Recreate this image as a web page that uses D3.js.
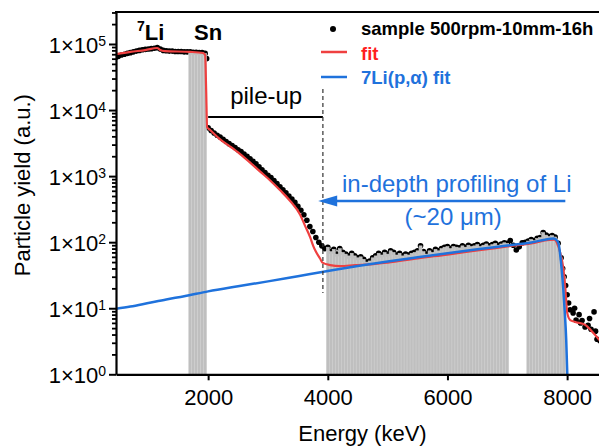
<!DOCTYPE html>
<html>
<head>
<meta charset="utf-8">
<script src="https://cdn.jsdelivr.net/npm/d3@7"></script>
<style>
  body { margin: 0; background: #fff; }
  svg { display: block; font-family: "Liberation Sans", Arial, sans-serif; }
</style>
</head>
<body>
<svg id="chart" width="599" height="447"></svg>
<script>
// Measured spectrum: [energy keV, counts]
const samplePlateau = [
  [450, 6.2e4], [500, 6.5e4], [550, 6.8e4], [600, 7.0e4], [650, 7.2e4], [700, 7.4e4],
  [750, 7.6e4], [800, 7.8e4], [850, 8.0e4], [900, 8.2e4], [950, 8.3e4], [1000, 8.4e4],
  [1050, 8.5e4], [1100, 8.6e4], [1150, 8.8e4], [1200, 8.4e4], [1250, 8.0e4], [1300, 7.9e4],
  [1350, 7.8e4], [1400, 7.8e4], [1450, 7.7e4], [1500, 7.7e4], [1550, 7.7e4], [1600, 7.6e4],
  [1650, 7.6e4], [1700, 7.6e4], [1750, 7.5e4], [1800, 7.5e4], [1850, 7.4e4], [1900, 7.4e4],
  [1950, 7.2e4], [1975, 6.0e4]
];
const samplePileUp = [
  [2000, 5.4e3], [2050, 4.9e3], [2100, 4.5e3], [2150, 4.15e3], [2200, 3.9e3], [2250, 3.6e3],
  [2300, 3.35e3], [2350, 3.1e3], [2400, 2.9e3], [2450, 2.7e3], [2500, 2.5e3], [2550, 2.35e3],
  [2600, 2.15e3], [2650, 2.0e3], [2700, 1.83e3], [2750, 1.68e3], [2800, 1.53e3], [2850, 1.38e3],
  [2900, 1.25e3], [2950, 1.13e3], [3000, 1.03e3], [3050, 950], [3100, 860], [3150, 770],
  [3200, 690], [3250, 620], [3300, 560], [3350, 500], [3400, 450], [3450, 400], [3500, 350],
  [3550, 305], [3600, 260], [3650, 215], [3700, 172], [3750, 145], [3800, 118], [3850, 100],
  [3900, 88]
];
const sampleLithium = [
  [3950, 80], [4000, 84], [4050, 72], [4100, 78], [4150, 66], [4200, 80], [4250, 70],
  [4300, 66], [4350, 62], [4400, 68], [4450, 62], [4500, 58], [4550, 60], [4600, 55],
  [4650, 50], [4700, 52], [4750, 58], [4800, 62], [4850, 68], [4900, 64], [4950, 70],
  [5000, 66], [5050, 74], [5100, 70], [5150, 64], [5200, 68], [5250, 62], [5300, 66],
  [5350, 64], [5400, 68], [5450, 70], [5500, 74], [5550, 88], [5600, 72], [5650, 66],
  [5700, 74], [5750, 70], [5800, 78], [5850, 74], [5900, 80], [5950, 84], [6000, 86],
  [6050, 80], [6100, 86], [6150, 84], [6200, 82], [6250, 88], [6300, 84], [6350, 90],
  [6400, 86], [6450, 88], [6500, 92], [6550, 86], [6600, 90], [6650, 94], [6700, 88],
  [6750, 92], [6800, 96], [6850, 90], [6900, 94], [6950, 98], [7000, 96], [7050, 106],
  [7100, 90], [7150, 76], [7200, 85], [7250, 98], [7300, 100], [7350, 104], [7400, 110],
  [7450, 106], [7500, 114], [7550, 118], [7600, 140], [7650, 128], [7700, 122], [7750, 126],
  [7800, 120], [7850, 96], [7900, 58], [7925, 40], [7950, 30], [7975, 22], [8000, 16]
];
const sampleTail = [
  [8025, 12], [8050, 9.5], [8100, 8.5], [8125, 10], [8150, 6.6], [8200, 8], [8225, 6],
  [8250, 6.5], [8300, 5.2], [8350, 5.5], [8375, 7], [8400, 4.8], [8450, 8.8], [8475, 4.5],
  [8500, 3.4], [8550, 3.2]
];

// Total spectrum fit
const fitTotal = [
  [460, 7.0e4], [700, 7.6e4], [950, 8.1e4], [1150, 8.7e4], [1190, 8.2e4], [1280, 7.8e4],
  [1700, 7.6e4], [1915, 7.3e4], [1950, 6.8e4], [1967, 2.0e4], [1983, 5.5e3], [2033, 5.0e3],
  [2200, 3.6e3], [2368, 2.8e3], [2535, 2.15e3], [2702, 1.6e3], [2870, 1.17e3], [3037, 860],
  [3204, 610], [3371, 420], [3538, 260], [3622, 175], [3706, 118], [3756, 88], [3800, 72],
  [3873, 56], [3910, 49], [4040, 45], [4207, 43.5], [4458, 45], [4709, 46], [5000, 49],
  [5500, 57], [6000, 65], [6500, 75], [7000, 86], [7400, 96], [7700, 108], [7790, 109],
  [7835, 95], [7885, 69], [7935, 41], [7968, 21], [8002, 8.5], [8052, 6.6], [8135, 6.2],
  [8303, 5.6], [8420, 4.4], [8540, 3.3]
];

// 7Li(p,alpha) contribution
const fitLithium = [
  [460, 9.8], [700, 10.6], [1000, 12.0], [1300, 13.6], [1600, 15.2], [2000, 18.0],
  [2500, 21.5], [3000, 25.5], [3500, 30.5], [4000, 36.5], [4500, 43.5], [5000, 51],
  [5500, 59], [6000, 68], [6500, 78], [7000, 89], [7400, 99], [7700, 112], [7780, 114],
  [7830, 106], [7860, 92], [7885, 64], [7910, 38], [7935, 20], [7960, 9], [7985, 3.3],
  [8003, 1]
];

// Energy windows shaded grey (integration regions)
const shadedWindows = [[1700, 1950], [4000, 7000], [7350, 7950]];

const xTicks = [2000, 4000, 6000, 8000];
const yExponents = [0, 1, 2, 3, 4, 5];

const svg = d3.select("#chart");
const plotLeft = 116, plotRight = 609, plotTop = 12, plotBottom = 374.3;
const x = d3.scaleLinear().domain([460, 8700]).range([plotLeft, plotRight]);
const y = d3.scaleLog().domain([1, 3.05e5]).range([plotBottom, plotTop]);

svg.append("defs").append("clipPath").attr("id", "plotClip")
  .append("rect").attr("x", plotLeft).attr("y", plotTop)
  .attr("width", plotRight - plotLeft).attr("height", plotBottom - plotTop);

const plot = svg.append("g").attr("clip-path", "url(#plotClip)");

const allSample = samplePlateau.concat(samplePileUp, sampleLithium, sampleTail);

// data points
plot.append("g").selectAll("circle").data(allSample).join("circle")
  .attr("cx", d => x(d[0])).attr("cy", d => y(d[1])).attr("r", 2.8)
  .attr("fill", "#000");

// grey channel bars in the integration windows
const halfStep = 25;
const barData = allSample.filter(d => shadedWindows.some(w => d[0] >= w[0] && d[0] <= w[1]));
plot.append("g").selectAll("rect").data(barData).join("rect")
  .attr("x", d => x(d[0] - halfStep))
  .attr("width", d => x(d[0] + halfStep) - x(d[0] - halfStep))
  .attr("y", d => y(d[1]))
  .attr("height", d => y(1) - y(d[1]))
  .attr("fill", "#bfbfbf")
  .attr("stroke", "#cfcfcf")
  .attr("stroke-width", 0.5);

const line = d3.line().x(d => x(d[0])).y(d => y(d[1])).curve(d3.curveMonotoneX);

plot.append("path").datum(fitTotal).attr("d", line)
  .attr("fill", "none").attr("stroke", "#ef4040").attr("stroke-width", 2.2);
plot.append("path").datum(fitLithium).attr("d", line)
  .attr("fill", "none").attr("stroke", "#1f72dc").attr("stroke-width", 2.5);

// axes
const xAxis = svg.append("g").attr("transform", `translate(0,${plotBottom})`)
  .call(d3.axisBottom(x).tickValues(xTicks).tickFormat(d3.format("d"))
    .tickSize(6).tickSizeOuter(0).tickPadding(9));
xAxis.select(".domain").attr("stroke-width", 2.2);
xAxis.selectAll(".tick line").attr("stroke-width", 2);
xAxis.selectAll(".tick text").attr("font-size", 22).attr("font-family", "Liberation Sans, Arial, sans-serif").attr("fill", "#000");

const minorVals = [];
yExponents.forEach(e => { for (let m = 2; m <= 9; m++) { const v = m * Math.pow(10, e); if (v <= 3.05e5) minorVals.push(v); } });
const yMinor = svg.append("g").attr("transform", `translate(${plotLeft},0)`)
  .call(d3.axisLeft(y).tickValues(minorVals).tickFormat("").tickSize(4).tickSizeOuter(0));
yMinor.select(".domain").remove();
yMinor.selectAll(".tick line").attr("stroke-width", 1.8);

const yAxis = svg.append("g").attr("transform", `translate(${plotLeft},0)`)
  .call(d3.axisLeft(y).tickValues(yExponents.map(e => Math.pow(10, e))).tickFormat("")
    .tickSize(7).tickSizeOuter(0));
yAxis.select(".domain").attr("stroke-width", 2.2);
yAxis.selectAll(".tick line").attr("stroke-width", 2);

const yLab = svg.append("g").selectAll("text").data(yExponents).join("text")
  .attr("x", 106).attr("y", e => y(Math.pow(10, e)) + 9)
  .attr("text-anchor", "end").attr("font-size", 22).attr("fill", "#000");
yLab.append("tspan").text("1×10");
yLab.append("tspan").attr("font-size", 14).attr("dy", -7).text(e => e);

// top frame
svg.append("line").attr("x1", plotLeft - 1).attr("x2", plotRight).attr("y1", plotTop).attr("y2", plotTop)
  .attr("stroke", "#000").attr("stroke-width", 2.2);

// axis titles
svg.append("text").attr("x", (plotLeft + plotRight) / 2).attr("y", 441).attr("text-anchor", "middle")
  .attr("font-size", 22).text("Energy (keV)");
svg.append("text").attr("transform", `translate(30,${(plotTop + plotBottom) / 2 - 8}) rotate(-90)`)
  .attr("text-anchor", "middle").attr("font-size", 22).text("Particle yield (a.u.)");

// element labels
const liLabel = svg.append("text").attr("x", 137).attr("y", y(1.15e5))
  .attr("font-size", 22).attr("font-weight", "bold");
liLabel.append("tspan").attr("font-size", 14).attr("dy", -9).text("7");
liLabel.append("tspan").attr("dy", 9).text("Li");
svg.append("text").attr("x", 194).attr("y", y(1.15e5))
  .attr("font-size", 22).attr("font-weight", "bold").text("Sn");

// pile-up annotation
svg.append("text").attr("x", x(2970)).attr("y", y(1.23e4)).attr("text-anchor", "middle")
  .attr("font-size", 24).text("pile-up");
svg.append("line").attr("x1", x(2000)).attr("x2", x(3918)).attr("y1", y(7.85e3)).attr("y2", y(7.85e3))
  .attr("stroke", "#000").attr("stroke-width", 2);
svg.append("line").attr("x1", x(3918)).attr("x2", x(3918)).attr("y1", y(2.09e4)).attr("y2", y(17))
  .attr("stroke", "#333").attr("stroke-width", 1.2).attr("stroke-dasharray", "4,3");

// depth-profiling annotation
const blue = "#1f72dc";
svg.append("text").attr("x", x(6155)).attr("y", y(575)).attr("text-anchor", "middle")
  .attr("font-size", 24).attr("fill", blue).text("in-depth profiling of Li");
svg.append("text").attr("x", x(6096)).attr("y", y(182)).attr("text-anchor", "middle")
  .attr("font-size", 24).attr("fill", blue).text("(~20 μm)");
const arrowY = y(419);
svg.append("line").attr("x1", x(7970)).attr("x2", x(3839) + 14).attr("y1", arrowY).attr("y2", arrowY)
  .attr("stroke", blue).attr("stroke-width", 2.6);
svg.append("path")
  .attr("d", `M${x(3839)},${arrowY} L${x(3839) + 19},${arrowY - 5.5} L${x(3839) + 19},${arrowY + 5.5} Z`)
  .attr("fill", blue);

// legend
const legend = svg.append("g").attr("font-weight", "bold").attr("font-size", 18.5);
legend.append("circle").attr("cx", 333).attr("cy", 29).attr("r", 3).attr("fill", "#000");
legend.append("text").attr("x", 361).attr("y", 35).attr("fill", "#000").text("sample 500rpm-10mm-16h");
legend.append("line").attr("x1", 321).attr("x2", 347).attr("y1", 52).attr("y2", 52)
  .attr("stroke", "#ef4040").attr("stroke-width", 2.5);
legend.append("text").attr("x", 361).attr("y", 60).attr("fill", "#ff1f1f").text("fit");
legend.append("line").attr("x1", 321).attr("x2", 347).attr("y1", 77).attr("y2", 77)
  .attr("stroke", blue).attr("stroke-width", 2.5);
legend.append("text").attr("x", 361).attr("y", 84).attr("fill", blue).text("7Li(p,α) fit");
</script>
</body>
</html>
